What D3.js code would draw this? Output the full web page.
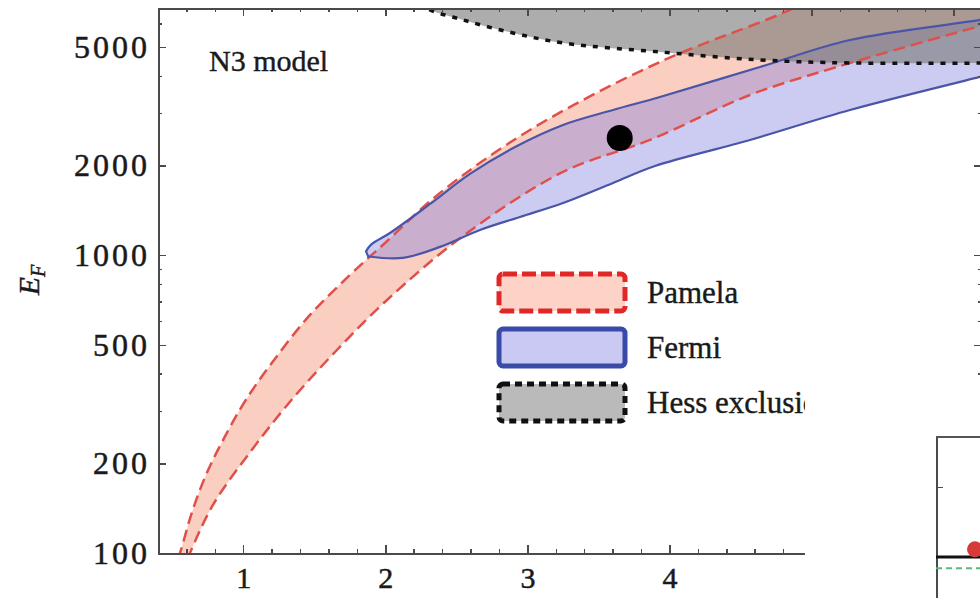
<!DOCTYPE html>
<html lang="en">
<head>
<meta charset="UTF-8">
<title>N3 model</title>
<script src="https://d3js.org/d3.v7.min.js"></script>
<style>
  body { margin: 0; background: #fff; }
  .axis path, .axis line { stroke: #4a4a4a; shape-rendering: crispEdges; }
  .axis path { stroke-width: 2; }
  .axis line { stroke-width: 1.5; }
  .axis text { font-family: "Liberation Serif", "Times New Roman", serif; font-size: 32px; fill: #1a1a1a;
               stroke: #1a1a1a; stroke-width: 0.5; letter-spacing: 3px; }
  .xaxis text { font-size: 30px; letter-spacing: 0; }
  .lbl { font-family: "Liberation Serif", "Times New Roman", serif; fill: #1a1a1a; stroke: #1a1a1a; stroke-width: 0.4; }
</style>
</head>
<body>
<script>
// --- data (x, E_F) ---
const pamelaUpper = [[0.499,84],[0.555,100],[0.639,137],[0.738,183],[0.865,243],[1.019,327],[1.217,445],[1.470,630],[1.751,858],[1.998,1099],[2.385,1618],[3.018,2633],[3.933,4455],[4.799,6507],[5.13,7770]];
const pamelaLower = [[0.562,84],[0.625,100],[0.787,145],[1.048,218],[1.329,322],[1.646,473],[2.012,707],[2.547,1160],[3.251,1903],[3.863,2437],[4.567,3451],[5.179,4285],[6.165,5840],[6.33,6116]];
const fermiUpper = [[1.864,1030],[1.90,1085],[2.033,1187],[2.315,1486],[2.596,1874],[2.927,2326],[3.251,2737],[3.603,3073],[3.933,3398],[4.637,4285],[5.271,5280],[6.186,6164],[6.33,6357]];
const fermiLower = [[1.880,990],[2.124,979],[2.385,1066],[2.666,1215],[2.948,1344],[3.251,1497],[3.603,1748],[3.898,1993],[4.567,2437],[5.271,3073],[6.186,3967],[6.33,4122]];
const hessEdge = [[2.18,7477],[2.27,6814],[2.547,6164],[2.899,5574],[3.251,5160],[3.933,4812],[4.637,4524],[5.271,4420],[6.33,4420]];
const bestFit = [3.65, 2475];
const cornerPt = [6.4, 8000];

const xTicks = [1, 2, 3, 4, 5, 6];
const xTickLabels = ["1", "2", "3", "4", "", ""];   // 5 and 6 sit under the inset
const xMinorTicks = [0.4,0.6,0.8,1.2,1.4,1.6,1.8,2.2,2.4,2.6,2.8,3.2,3.4,3.6,3.8,4.2,4.4,4.6,4.8,5.2,5.4,5.6,5.8,6.2];
const yTicks = [100, 200, 500, 1000, 2000, 5000];
const yMinorTicks = [300, 400, 600, 700, 800, 900, 3000, 4000, 6000];
const legendNames = ["Pamela", "Fermi", "Hess exclusion"];

// small inset (bottom right), its own units
const insetLevels = [0, -0.16];
const insetPoint = [0.195, 0.11];
const insetTicks = [1];

const w = 980, h = 598;
const pLeft = 158, pRight = 982, pTop = 8, pBottom = 553;

const svg = d3.select("body").append("svg")
    .attr("width", w).attr("height", h);

const x = d3.scaleLinear().domain([0.4, 6.2]).range([pLeft, pRight]);
const y = d3.scaleLog().domain([100, 6760]).range([pBottom, pTop]);

svg.append("clipPath").attr("id", "plotclip")
  .append("rect").attr("x", pLeft).attr("y", pTop)
  .attr("width", pRight - pLeft).attr("height", pBottom - pTop);

const line = d3.line().x(d => x(d[0])).y(d => y(d[1])).curve(d3.curveCatmullRom);
const xy = d => x(d[0]) + "," + y(d[1]);

const g = svg.append("g").attr("clip-path", "url(#plotclip)");

// Pamela band
const pamelaPath = line(pamelaUpper) + "L" + xy(cornerPt) + "L" +
    line(pamelaLower.slice().reverse()).slice(1) + "Z";
g.append("path").attr("d", pamelaPath)
  .attr("fill", "#f5967a").attr("fill-opacity", 0.47);

// Fermi band
const fermiPath = line(fermiUpper) + "L" + line(fermiLower.slice().reverse()).slice(1) + "Z";
g.append("path").attr("d", fermiPath)
  .attr("fill", "#7f7fe0").attr("fill-opacity", 0.4);

// Hess exclusion
const hessArea = d3.area().x(d => x(d[0])).y0(y(6760)).y1(d => y(d[1])).curve(d3.curveCatmullRom);
g.append("path").attr("d", hessArea(hessEdge))
  .attr("fill", "#777").attr("fill-opacity", 0.6);

// outlines
[pamelaUpper, pamelaLower].forEach(pts => {
  g.append("path").attr("d", line(pts))
    .attr("fill", "none").attr("stroke", "#e0504a")
    .attr("stroke-width", 2.5).attr("stroke-dasharray", "12,6");
});
g.append("path").attr("d", fermiPath)
  .attr("fill", "none").attr("stroke", "#4a55a8").attr("stroke-width", 2.2)
  .attr("stroke-linejoin", "round");
g.append("path").attr("d", line(hessEdge))
  .attr("fill", "none").attr("stroke", "#111")
  .attr("stroke-width", 3.5).attr("stroke-dasharray", "5,7");

g.append("circle")
  .attr("cx", x(bestFit[0])).attr("cy", y(bestFit[1]))
  .attr("r", 13).attr("fill", "#000");

// axes / frame
const fmt = d3.format("d");
svg.append("g").attr("class", "axis xaxis")
  .attr("transform", "translate(0," + pBottom + ")")
  .call(d3.axisBottom(x).tickValues(xTicks).tickFormat((d, i) => xTickLabels[i])
        .tickSizeInner(-8).tickSizeOuter(0).tickPadding(14));
svg.append("g").attr("class", "axis")
  .attr("transform", "translate(0," + pBottom + ")")
  .call(d3.axisBottom(x).tickValues(xMinorTicks).tickFormat("").tickSize(-4));
svg.append("g").attr("class", "axis")
  .attr("transform", "translate(0," + pTop + ")")
  .call(d3.axisTop(x).tickValues(xTicks).tickFormat("").tickSizeInner(-8).tickSizeOuter(0));
svg.append("g").attr("class", "axis")
  .attr("transform", "translate(0," + pTop + ")")
  .call(d3.axisTop(x).tickValues(xMinorTicks).tickFormat("").tickSize(-4));

svg.append("g").attr("class", "axis")
  .attr("transform", "translate(" + pLeft + ",0)")
  .call(d3.axisLeft(y).tickValues(yTicks).tickFormat(fmt)
        .tickSizeInner(-8).tickSizeOuter(0).tickPadding(8));
svg.append("g").attr("class", "axis")
  .attr("transform", "translate(" + pLeft + ",0)")
  .call(d3.axisLeft(y).tickValues(yMinorTicks).tickFormat("").tickSize(-4));
svg.append("g").attr("class", "axis")
  .attr("transform", "translate(" + pRight + ",0)")
  .call(d3.axisRight(y).tickValues(yTicks).tickFormat("").tickSizeInner(-8).tickSizeOuter(0));
svg.append("g").attr("class", "axis")
  .attr("transform", "translate(" + pRight + ",0)")
  .call(d3.axisRight(y).tickValues(yMinorTicks).tickFormat("").tickSize(-4));

// labels
svg.append("text").attr("class", "lbl")
  .attr("x", 209).attr("y", 71).style("font-size", "30px")
  .text("N3 model");

const yl = svg.append("text").attr("class", "lbl")
  .attr("transform", "translate(39,280) rotate(-90)")
  .attr("text-anchor", "middle").style("font-size", "30px").style("font-style", "italic");
yl.append("tspan").text("E");
yl.append("tspan").attr("dy", 6).style("font-size", "20px").text("F");

// legend
const legendStyles = [
  {fill: "#fcd3c6", stroke: "#e02828", dash: "14,5"},
  {fill: "#c9c9f4", stroke: "#3a4aa8", dash: null},
  {fill: "#bababa", stroke: "#111", dash: "7,5"}
];
const leg = svg.append("g").attr("transform", "translate(497,272)");
const items = leg.selectAll("g").data(legendNames).enter().append("g")
  .attr("transform", (d, i) => "translate(0," + i * 55 + ")");
items.append("rect")
  .attr("x", 2).attr("y", 2).attr("width", 126).attr("height", 37).attr("rx", 4)
  .attr("fill", (d, i) => legendStyles[i].fill)
  .attr("stroke", (d, i) => legendStyles[i].stroke)
  .attr("stroke-width", 5)
  .attr("stroke-dasharray", (d, i) => legendStyles[i].dash);
items.append("text").attr("class", "lbl")
  .attr("x", 150).attr("y", 31).style("font-size", "31px")
  .text(d => d);

// overlapping inset panel
svg.append("rect").attr("x", 805).attr("y", 375)
  .attr("width", w - 805).attr("height", h - 375).attr("fill", "#fff");
const ix = d3.scaleLinear().domain([0, 1]).range([936, 1136]);
const iy = d3.scaleLinear().domain([-0.6, 1.714]).range([599, 437]);
const inset = svg.append("g");
inset.append("g").attr("class", "axis")
  .attr("transform", "translate(" + ix(0) + ",0)")
  .call(d3.axisLeft(iy).tickValues(insetTicks).tickFormat("").tickSizeInner(-7).tickSizeOuter(0));
inset.append("line")
  .attr("x1", ix(0)).attr("x2", ix(1)).attr("y1", iy(1.714)).attr("y2", iy(1.714))
  .attr("stroke", "#555").attr("stroke-width", 2);
inset.append("line")
  .attr("x1", ix(0)).attr("x2", ix(1)).attr("y1", iy(insetLevels[1])).attr("y2", iy(insetLevels[1]))
  .attr("stroke", "#5cb87a").attr("stroke-width", 2).attr("stroke-dasharray", "6,4");
inset.append("line")
  .attr("x1", ix(0)).attr("x2", ix(1)).attr("y1", iy(insetLevels[0])).attr("y2", iy(insetLevels[0]))
  .attr("stroke", "#111").attr("stroke-width", 3);
inset.append("circle")
  .attr("cx", ix(insetPoint[0])).attr("cy", iy(insetPoint[1])).attr("r", 8)
  .attr("fill", "#d83a3a");
</script>
</body>
</html>
